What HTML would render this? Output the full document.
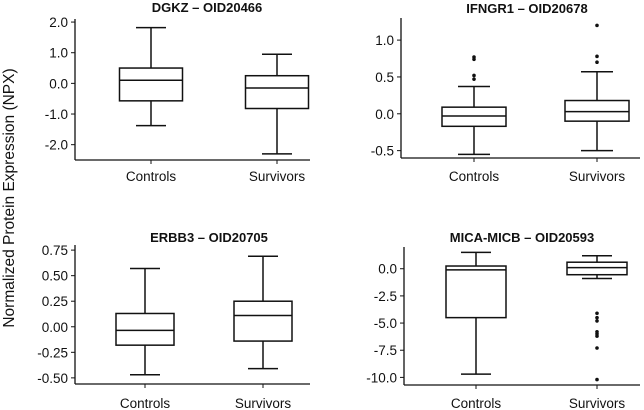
<!DOCTYPE html>
<html><head><meta charset="utf-8"><style>
body{margin:0;background:#fff;}
svg{display:block;font-family:"Liberation Sans",Arial,sans-serif;}
</style></head><body>
<svg id="c" width="644" height="410" viewBox="0 0 644 410">
<text x="14" y="198" transform="rotate(-90 14 198)" text-anchor="middle" font-size="15.5" fill="#111">Normalized Protein Expression (NPX)</text>
</svg>
<script>
const categories = ["Controls", "Survivors"];
const titles = ["DGKZ – OID20466", "IFNGR1 – OID20678", "ERBB3 – OID20705", "MICA-MICB – OID20593"];
// [min, q1, median, q3, max] per category
const statsDGKZ = [[-1.38, -0.57, 0.1, 0.5, 1.82], [-2.3, -0.82, -0.15, 0.25, 0.95]];
const statsIFNGR1 = [[-0.55, -0.17, -0.03, 0.09, 0.37], [-0.5, -0.1, 0.03, 0.18, 0.57]];
const statsERBB3 = [[-0.47, -0.18, -0.035, 0.13, 0.57], [-0.41, -0.14, 0.11, 0.25, 0.69]];
const statsMICA = [[-9.7, -4.5, -0.1, 0.25, 1.5], [-0.9, -0.55, 0.1, 0.6, 1.2]];
const outliersDGKZ = [[], []];
const outliersIFNGR1 = [[0.74, 0.77, 0.47, 0.52], [1.2, 0.78, 0.7]];
const outliersERBB3 = [[], []];
const outliersMICA = [[], [-4.1, -4.5, -4.8, -5.8, -6.0, -6.2, -7.3, -10.2]];
const ticksDGKZ = [2, 1, 0, -1, -2];
const tickLabelsDGKZ = ["2.0", "1.0", "0.0", "-1.0", "-2.0"];
const ticksIFNGR1 = [1, 0.5, 0, -0.5];
const tickLabelsIFNGR1 = ["1.0", "0.5", "0.0", "-0.5"];
const ticksERBB3 = [0.75, 0.5, 0.25, 0, -0.25, -0.5];
const tickLabelsERBB3 = ["0.75", "0.50", "0.25", "0.00", "-0.25", "-0.50"];
const ticksMICA = [0, -2.5, -5, -7.5, -10];
const tickLabelsMICA = ["0.0", "-2.5", "-5.0", "-7.5", "-10.0"];

const NS = "http://www.w3.org/2000/svg";
const svg = document.getElementById("c");
function mk(tag, attrs, parent) {
  const e = document.createElementNS(NS, tag);
  for (const k in attrs) e.setAttribute(k, attrs[k]);
  (parent || svg).appendChild(e);
  return e;
}
const panels = [
  {key:"dgkz", title:titles[0], stats:statsDGKZ, out:outliersDGKZ, ticks:ticksDGKZ, labels:tickLabelsDGKZ,
   ax:75, axEnd:310, top:19, bottom:160, yTop:2.1, yBot:-2.5, cx:[151,277], bw:63, cap:30, titleX:207, titleY:12, catY:181},
  {key:"ifngr1", title:titles[1], stats:statsIFNGR1, out:outliersIFNGR1, ticks:ticksIFNGR1, labels:tickLabelsIFNGR1,
   ax:401, axEnd:640, top:18, bottom:158, yTop:1.3, yBot:-0.6, cx:[474,597], bw:64, cap:0, titleX:527, titleY:13, catY:181},
  {key:"erbb3", title:titles[2], stats:statsERBB3, out:outliersERBB3, ticks:ticksERBB3, labels:tickLabelsERBB3,
   ax:75, axEnd:310, top:245, bottom:384, yTop:0.8, yBot:-0.56, cx:[145,263], bw:58, cap:30, titleX:209, titleY:242, catY:408},
  {key:"mica", title:titles[3], stats:statsMICA, out:outliersMICA, ticks:ticksMICA, labels:tickLabelsMICA,
   ax:404, axEnd:640, top:247, bottom:385, yTop:2.0, yBot:-10.7, cx:[476,597], bw:60, cap:30, titleX:522, titleY:242, catY:408}
];
panels.forEach(p => {
  const g = mk("g", {});
  
  
  const y = v => p.top + (p.yTop - v) / (p.yTop - p.yBot) * (p.bottom - p.top);
  const t = mk("text", {x:p.titleX, y:p.titleY, "text-anchor":"middle", "font-size":"13", "font-weight":"bold", fill:"#111"}, g);
  t.textContent = p.title;
  
  
  const ya = mk("line", {x1:p.ax, y1:p.top, x2:p.ax, y2:p.bottom, stroke:"#111", "stroke-width":"1.3"}, g);
  
  
  const xa = mk("line", {x1:p.ax, y1:p.bottom, x2:p.axEnd, y2:p.bottom, stroke:"#111", "stroke-width":"1.3"}, g);
  
  
  p.ticks.forEach((tv, i) => {
    const yy = y(tv);
    mk("line", {x1:p.ax - 4, y1:yy, x2:p.ax, y2:yy, stroke:"#111", "stroke-width":"1"}, g);
    const tl = mk("text", {x:p.ax - 7, y:yy + 5, "text-anchor":"end", "font-size":"13.5", fill:"#111"}, g);
    tl.textContent = p.labels[i];
    
    
  });
  categories.forEach((c, i) => {
    const x = p.cx[i], s = p.stats[i], hw = p.bw / 2, cw = (p.cap || p.bw * 0.5) / 2;
    mk("line", {x1:x, y1:p.bottom, x2:x, y2:p.bottom + 4, stroke:"#111", "stroke-width":"1"}, g);
    const cl = mk("text", {x:x, y:p.catY, "text-anchor":"middle", "font-size":"13.5", fill:"#111"}, g);
    cl.textContent = c;
    
    
    const bg = mk("g", {stroke:"#111", "stroke-width":"1.5", fill:"none"}, g);
    
    
    mk("line", {x1:x, y1:y(s[0]), x2:x, y2:y(s[1])}, bg);
    mk("line", {x1:x, y1:y(s[3]), x2:x, y2:y(s[4])}, bg);
    mk("line", {x1:x - cw, y1:y(s[0]), x2:x + cw, y2:y(s[0])}, bg);
    mk("line", {x1:x - cw, y1:y(s[4]), x2:x + cw, y2:y(s[4])}, bg);
    mk("rect", {x:x - hw, y:y(s[3]), width:p.bw, height:y(s[1]) - y(s[3]), fill:"#fff"}, bg);
    mk("line", {x1:x - hw, y1:y(s[2]), x2:x + hw, y2:y(s[2])}, bg);
    p.out[i].forEach(v => {
      const d = mk("circle", {cx:x, cy:y(v), r:1.8, fill:"#111"}, g);
      
      
    });
  });
});
</script>
</body></html>
